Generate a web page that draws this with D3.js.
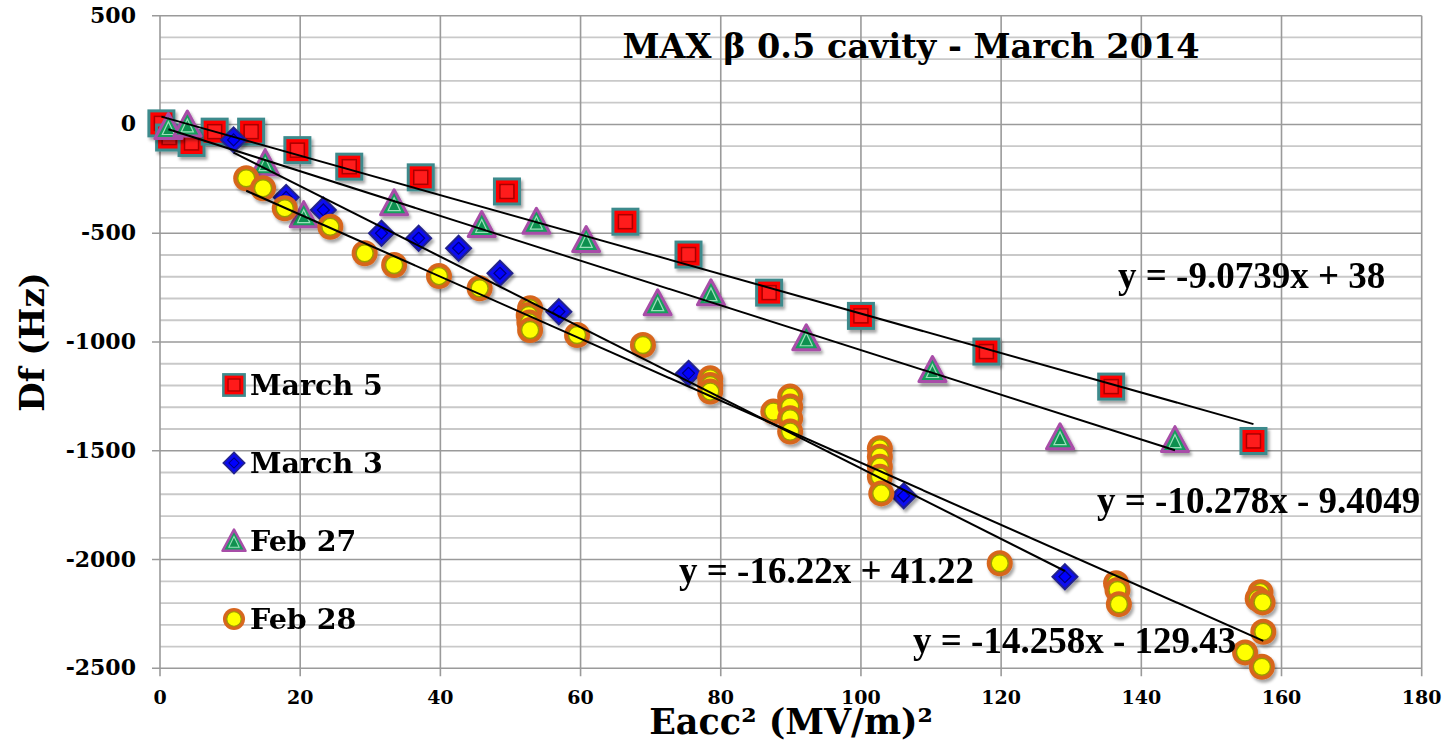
<!DOCTYPE html>
<html>
<head>
<meta charset="utf-8">
<script src="https://cdn.jsdelivr.net/npm/d3@7"></script>
<style>
  body { margin: 0; background: #fff; }
  svg { display: block; }
</style>
</head>
<body>
<div id="grafico"></div>
<script>
// datos
const march5X = [0.2, 1.3, 4.5, 7.8, 13.0, 19.6, 27.0, 37.2, 49.5, 66.4, 75.4, 86.9, 100.0, 117.9, 135.7, 156.0];
const march5Y = [5, -60, -85, -33, -33, -118, -194, -243, -308, -447, -598, -773, -880, -1044, -1205, -1455];

const march3X = [10.5, 18.0, 23.3, 31.6, 36.9, 42.6, 48.5, 56.9, 75.4, 106.1, 129.1];
const march3Y = [-71, -335, -393, -500, -523, -569, -684, -861, -1144, -1707, -2079];

const feb27X = [1.2, 3.9, 15.0, 20.5, 33.4, 45.9, 53.7, 60.8, 71.0, 78.6, 92.2, 110.2, 128.4, 144.8];
const feb27Y = [-12, 0, -178, -417, -362, -462, -447, -531, -822, -776, -983, -1129, -1438, -1451];

const feb28X = [12.3, 14.7, 17.8, 24.3, 29.2, 33.4, 39.8, 45.6, 52.8, 52.6, 52.7, 52.8, 59.5, 68.9,
  78.5, 78.5, 78.5, 87.5, 89.9, 89.9, 89.9, 89.9, 102.7, 102.7, 102.7, 102.7, 102.9, 119.8,
  136.4, 136.6, 136.8, 157.0, 156.6, 157.3, 157.4, 154.8, 157.2];
const feb28Y = [-247, -293, -385, -470, -592, -646, -697, -753, -845, -876, -910, -945, -968, -1014,
  -1167, -1198, -1228, -1320, -1251, -1297, -1351, -1412, -1489, -1527, -1573, -1619, -1696, -2017,
  -2109, -2140, -2205, -2150, -2180, -2197, -2332, -2427, -2493];

const seriesNames = ["March 5", "March 3", "Feb 27", "Feb 28"];
const trendSlopes = [-9.0739, -16.22, -10.278, -14.258];
const trendIntercepts = [38, 41.22, -9.4049, -129.43];
const trendLabels = ["y = -9.0739x + 38", "y = -16.22x + 41.22", "y = -10.278x - 9.4049", "y = -14.258x - 129.43"];

const xTicks = [0, 20, 40, 60, 80, 100, 120, 140, 160, 180];
const yTicks = [500, 0, -500, -1000, -1500, -2000, -2500];

const ancho = 1454, alto = 741;
const izq = 160, der = 1421.7, arriba = 15.7, abajo = 668.3;
const fuenteGeorgia = "Georgia, 'DejaVu Serif', serif";
const fuenteTimes = "'Liberation Serif', 'Times New Roman', serif";

const x = d3.scaleLinear().domain([0, 180]).range([izq, der]);
const y = d3.scaleLinear().domain([-2500, 500]).range([abajo, arriba]);

const $svg = d3.select("#grafico")
  .append("svg")
  .attr("width", ancho)
  .attr("height", alto);

const defs = $svg.append("defs");
const sombra = defs.append("filter")
  .attr("id", "sombra")
  .attr("x", "-50%").attr("y", "-50%")
  .attr("width", "200%").attr("height", "200%");
sombra.append("feDropShadow")
  .attr("dx", 2).attr("dy", 3)
  .attr("stdDeviation", 1.8)
  .attr("flood-color", "#000")
  .attr("flood-opacity", 0.35);

// rejilla horizontal menor cada 100
const menores = d3.range(-2400, 500, 100).filter(v => v % 500 !== 0);
$svg.append("g")
  .selectAll("line")
  .data(menores)
  .join("line")
  .attr("x1", izq).attr("x2", der)
  .attr("y1", d => y(d)).attr("y2", d => y(d))
  .attr("stroke", "#c9c9c9")
  .attr("stroke-width", 1.8);

$svg.append("g")
  .selectAll("line")
  .data(yTicks)
  .join("line")
  .attr("x1", izq - 8).attr("x2", der)
  .attr("y1", d => y(d)).attr("y2", d => y(d))
  .attr("stroke", "#9a9a9a")
  .attr("stroke-width", 1.6);

$svg.append("g")
  .selectAll("line")
  .data(xTicks)
  .join("line")
  .attr("x1", d => x(d)).attr("x2", d => x(d))
  .attr("y1", arriba).attr("y2", abajo + 8)
  .attr("stroke", "#9a9a9a")
  .attr("stroke-width", 1.6);

// etiquetas de los ejes
$svg.append("g")
  .selectAll("text")
  .data(yTicks)
  .join("text")
  .attr("x", 136)
  .attr("y", d => y(d) + 7)
  .attr("text-anchor", "end")
  .attr("font-family", fuenteGeorgia)
  .attr("font-weight", "bold")
  .attr("font-size", 22)
  .text(d => d);

$svg.append("g")
  .selectAll("text")
  .data(xTicks)
  .join("text")
  .attr("x", d => x(d))
  .attr("y", 704)
  .attr("text-anchor", "middle")
  .attr("font-family", fuenteGeorgia)
  .attr("font-weight", "bold")
  .attr("font-size", 19)
  .text(d => d);

$svg.append("text")
  .attr("x", 791).attr("y", 734)
  .attr("text-anchor", "middle")
  .attr("font-family", fuenteGeorgia)
  .attr("font-weight", "bold")
  .attr("font-size", 35)
  .text("Eacc² (MV/m)²");

$svg.append("text")
  .attr("transform", "translate(44,342) rotate(-90)")
  .attr("text-anchor", "middle")
  .attr("font-family", fuenteGeorgia)
  .attr("font-weight", "bold")
  .attr("font-size", 34)
  .text("Df (Hz)");

$svg.append("text")
  .attr("x", 911).attr("y", 58)
  .attr("text-anchor", "middle")
  .attr("font-family", fuenteGeorgia)
  .attr("font-weight", "bold")
  .attr("font-size", 33.5)
  .text("MAX β 0.5 cavity - March 2014");

// marcadores
const dibujarCuadrado = (g, s) => {
  g.append("rect").attr("x", -12.5 * s).attr("y", -12.5 * s).attr("width", 25 * s).attr("height", 25 * s)
    .attr("fill", "#ff0000").attr("stroke", "#3d8a8c").attr("stroke-width", 3 * s);
  g.append("rect").attr("x", -7 * s).attr("y", -7 * s).attr("width", 14 * s).attr("height", 14 * s)
    .attr("fill", "#ff1a1a").attr("stroke", "#a80000").attr("stroke-width", 1.5 * s);
};
const dibujarRombo = (g, s) => {
  const r = 12.5 * s, r2 = 6 * s;
  g.append("path").attr("d", `M0,${-r}L${r},0L0,${r}L${-r},0Z`)
    .attr("fill", "#0a0af0").attr("stroke", "#23238c").attr("stroke-width", 2 * s);
  g.append("path").attr("d", `M0,${-r2}L${r2},0L0,${r2}L${-r2},0Z`)
    .attr("fill", "#0000ff").attr("stroke", "#000080").attr("stroke-width", 1.2 * s);
};
const dibujarTriangulo = (g, s) => {
  const h = 13.5 * s, w = 13.5 * s;
  g.append("path").attr("d", `M0,${-h}L${w},${h * 0.85}L${-w},${h * 0.85}Z`)
    .attr("fill", "#16a05c").attr("stroke", "#a84ea8").attr("stroke-width", 3 * s).attr("stroke-linejoin", "round");
  g.append("path").attr("d", `M0,${-h * 0.4}L${w * 0.45},${h * 0.55}L${-w * 0.45},${h * 0.55}Z`)
    .attr("fill", "#119050").attr("stroke", "#9be0bb").attr("stroke-width", 1.2 * s);
};
const dibujarCirculo = (g, s) => {
  g.append("circle").attr("r", 13 * s).attr("fill", "#d7661f");
  g.append("circle").attr("r", 8.5 * s).attr("fill", "#ffff00").attr("stroke", "#9c9a00").attr("stroke-width", 1.4 * s);
};
const dibujantes = [dibujarCuadrado, dibujarRombo, dibujarTriangulo, dibujarCirculo];

const series = [
  { xs: march5X, ys: march5Y },
  { xs: march3X, ys: march3Y },
  { xs: feb27X, ys: feb27Y },
  { xs: feb28X, ys: feb28Y }
];

series.forEach((serie, i) => {
  const puntos = serie.xs.map((v, j) => [v, serie.ys[j]]);
  $svg.append("g")
    .attr("filter", "url(#sombra)")
    .selectAll("g")
    .data(puntos)
    .join("g")
    .attr("transform", d => `translate(${x(d[0])},${y(d[1])})`)
    .each(function () { dibujantes[i](d3.select(this), 1); });
});

// lineas de tendencia encima
series.forEach((serie, i) => {
  const [x0, x1] = d3.extent(serie.xs);
  const linea = [x0, x1].map(v => [v, trendSlopes[i] * v + trendIntercepts[i]]);
  $svg.append("path")
    .datum(linea)
    .attr("d", d3.line().x(d => x(d[0])).y(d => y(d[1])))
    .attr("stroke", "#000")
    .attr("stroke-width", 2)
    .attr("fill", "none");
});

// ecuaciones
const posEcuaciones = [[1118, 288], [679, 583], [1097, 513], [913, 653]];
trendLabels.forEach((t, i) => {
  $svg.append("text")
    .attr("x", posEcuaciones[i][0]).attr("y", posEcuaciones[i][1])
    .attr("font-family", fuenteTimes)
    .attr("font-weight", "bold")
    .attr("font-size", 37)
    .text(t);
});

// leyenda dentro del area
const leyenda = $svg.append("g");
seriesNames.forEach((nombre, i) => {
  const cy = 385 + i * 78;
  const g = leyenda.append("g").attr("transform", `translate(234,${cy})`);
  dibujantes[i](g, 0.85);
  leyenda.append("text")
    .attr("x", 250).attr("y", cy + 10)
    .attr("font-family", fuenteGeorgia)
    .attr("font-weight", "bold")
    .attr("font-size", 28.5)
    .text(nombre);
});
</script>
</body>
</html>
